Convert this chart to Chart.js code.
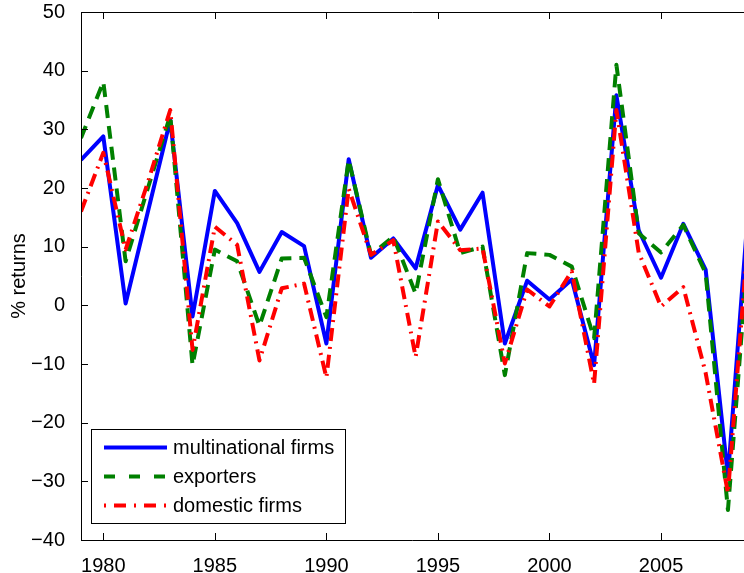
<!DOCTYPE html>
<html>
<head>
<meta charset="utf-8">
<script src="https://cdn.jsdelivr.net/npm/chart.js@4.4.0/dist/chart.umd.min.js"></script>
<style>
  html, body { margin: 0; padding: 0; background: #fff; }
  #wrap { width: 744px; height: 573px; }
</style>
</head>
<body>
<div id="wrap"><canvas id="returnsChart" width="744" height="573"></canvas></div>
<script>
// yearly % returns
var years = [1979, 1980, 1981, 1982, 1983, 1984, 1985, 1986, 1987, 1988,
             1989, 1990, 1991, 1992, 1993, 1994, 1995, 1996, 1997, 1998,
             1999, 2000, 2001, 2002, 2003, 2004, 2005, 2006, 2007, 2008, 2009];

var multinational = [24.8, 28.8, 0.3, 16.0, 31.6, -1.9, 19.5, 14.0, 5.7, 12.5,
                     10.1, -6.5, 24.9, 8.1, 11.4, 6.3, 20.5, 12.9, 19.2, -6.5,
                     4.2, 1.0, 4.4, -10.2, 35.8, 12.8, 4.7, 13.9, 6.1, -29.1, 21.0];

var exporters = [28.5, 38.1, 7.5, 20.0, 32.4, -10.2, 9.5, 7.5, -3.5, 8.0,
                 8.1, -2.0, 24.8, 8.6, 11.7, 2.0, 21.5, 8.9, 10.0, -11.9,
                 8.9, 8.6, 6.6, -5.6, 41.0, 12.3, 9.0, 13.7, 5.5, -34.9, 14.0];

var domestic = [16.0, 26.0, 9.5, 21.0, 33.3, -7.6, 13.4, 10.3, -9.4, 2.9,
                3.7, -12.3, 19.9, 8.6, 11.1, -8.8, 14.3, 9.4, 9.7, -9.9,
                2.7, -0.2, 5.8, -13.4, 33.3, 9.0, -0.2, 3.1, -11.5, -32.0, 16.5];

var seriesNames = ['multinational firms', 'exporters', 'domestic firms'];

var xTicks = [1980, 1985, 1990, 1995, 2000, 2005];
var yTicks = [-40, -30, -20, -10, 0, 10, 20, 30, 40, 50];

var FONT = '"Liberation Sans", Arial, Helvetica, sans-serif';

function toPoints(vals) {
  return years.map(function (yr, i) { return { x: yr, y: vals[i] }; });
}

// matlab style box: top line + inward ticks on all visible sides
var framePlugin = {
  id: 'frame',
  afterDraw: function (chart) {
    var ctx = chart.ctx;
    var a = chart.chartArea;
    var xs = chart.scales.x, ys = chart.scales.y;
    ctx.save();
    ctx.strokeStyle = '#000';
    ctx.lineWidth = 1;
    ctx.beginPath();
    ctx.moveTo(a.left + 0.5, a.top + 0.5);
    ctx.lineTo(a.right, a.top + 0.5);
    ctx.moveTo(a.left + 0.5, a.top);
    ctx.lineTo(a.left + 0.5, a.bottom + 0.5);
    ctx.lineTo(a.right, a.bottom + 0.5);
    xTicks.forEach(function (v) {
      var px = Math.round(xs.getPixelForValue(v)) + 0.5;
      ctx.moveTo(px, a.bottom);
      ctx.lineTo(px, a.bottom - 7);
      ctx.moveTo(px, a.top);
      ctx.lineTo(px, a.top + 7);
    });
    yTicks.forEach(function (v) {
      var py = Math.round(ys.getPixelForValue(v)) + 0.5;
      ctx.moveTo(a.left, py);
      ctx.lineTo(a.left + 7, py);
    });
    ctx.stroke();

    // legend box
    var bx = 91.5, by = 429.5, bw = 254, bh = 94;
    ctx.fillStyle = '#fff';
    ctx.fillRect(bx, by, bw, bh);
    ctx.strokeRect(bx, by, bw, bh);
    var rows = [447.5, 476.5, 505.5];
    var legendDash = [[], [11, 14], [2, 8, 12, 8]];
    chart.data.datasets.forEach(function (ds, i) {
      ctx.strokeStyle = ds.borderColor;
      ctx.lineWidth = 4;
      ctx.lineCap = 'butt';
      ctx.setLineDash(legendDash[i]);
      ctx.beginPath();
      ctx.moveTo(104, rows[i]);
      ctx.lineTo(167, rows[i]);
      ctx.stroke();
      ctx.setLineDash([]);
      ctx.fillStyle = '#000';
      ctx.font = '20px ' + FONT;
      ctx.textBaseline = 'middle';
      ctx.textAlign = 'left';
      ctx.fillText(seriesNames[i], 173, rows[i] + 1);
    });
    ctx.restore();
  }
};

new Chart(document.getElementById('returnsChart').getContext('2d'), {
  type: 'line',
  data: {
    datasets: [{
      label: seriesNames[0],
      data: toPoints(multinational),
      borderColor: '#0000ff',
      borderWidth: 4,
      order: 3
    }, {
      label: seriesNames[1],
      data: toPoints(exporters),
      borderColor: '#008000',
      borderWidth: 4,
      borderDash: [13, 8],
      order: 2
    }, {
      label: seriesNames[2],
      data: toPoints(domestic),
      borderColor: '#ff0000',
      borderWidth: 4,
      borderDash: [13, 6, 2, 6],
      order: 1
    }]
  },
  options: {
    responsive: false,
    animation: false,
    layout: { padding: { top: 12, right: 0, left: 0, bottom: 0 } },
    elements: {
      line: { tension: 0, borderCapStyle: 'butt', borderJoinStyle: 'round' },
      point: { radius: 0, hoverRadius: 0 }
    },
    scales: {
      x: {
        type: 'linear',
        min: 1979,
        max: 2008.72,
        grid: { display: false },
        border: { display: false },
        afterBuildTicks: function (s) { s.ticks = xTicks.map(function (v) { return { value: v }; }); },
        afterFit: function (s) { s.height = 33; s.paddingLeft = 0; s.paddingRight = 0; },
        ticks: {
          color: '#000',
          padding: 6,
          maxRotation: 0,
          font: { family: FONT, size: 20 },
          callback: function (v) { return String(v); }
        }
      },
      y: {
        min: -40,
        max: 50,
        grid: { display: false },
        border: { display: false },
        afterBuildTicks: function (s) { s.ticks = yTicks.map(function (v) { return { value: v }; }); },
        afterFit: function (s) { s.width = 81; s.paddingTop = 0; s.paddingBottom = 0; },
        title: {
          display: true,
          text: '% returns',
          color: '#000',
          padding: { top: 7, bottom: 0 },
          font: { family: FONT, size: 20 }
        },
        ticks: {
          color: '#000',
          padding: 8,
          font: { family: FONT, size: 20 },
          callback: function (v) { return String(v).replace('-', '\u2212'); }
        }
      }
    },
    plugins: {
      legend: { display: false },
      tooltip: { enabled: false }
    }
  },
  plugins: [framePlugin]
});
</script>
</body>
</html>
